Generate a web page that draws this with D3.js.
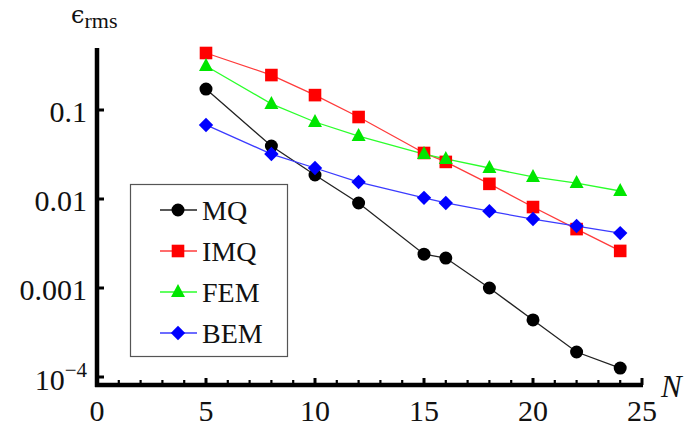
<!DOCTYPE html>
<html>
<head>
<meta charset="utf-8">
<script src="https://cdn.jsdelivr.net/npm/d3@7"></script>
<style>
  html, body { margin: 0; padding: 0; background: #fff; }
  svg { display: block; font-family: "Liberation Serif", "Times New Roman", serif; }
</style>
</head>
<body>
<svg id="chart" width="689" height="432"></svg>
<script>
// Grid sizes N and rms errors for each method
const nValues = [5, 8, 10, 12, 15, 16, 18, 20, 22, 24];
const mqErr  = [0.172, 0.0394, 0.0186, 0.00902, 0.0024, 0.00217, 0.001, 0.000438, 0.000191, 0.000126];
const imqErr = [0.437, 0.247, 0.147, 0.0834, 0.0329, 0.0261, 0.0148, 0.00812, 0.00459, 0.00261];
const femErr = [0.312, 0.117, 0.0733, 0.051, 0.032, 0.0282, 0.0223, 0.0177, 0.0151, 0.0123];
const bemErr = [0.0679, 0.032, 0.0223, 0.0155, 0.0103, 0.00902, 0.0073, 0.00595, 0.00497, 0.00414];
const seriesNames = ["MQ", "IMQ", "FEM", "BEM"];
const xTickLabels = [0, 5, 10, 15, 20, 25];
const yTickValues = [0.1, 0.01, 0.001, 0.0001];
const yTickLabels = ["0.1", "0.01", "0.001", "10^-4"];

const series = [
  { name: seriesNames[0], values: mqErr,  color: "#000000", line: "#222222", shape: "circle" },
  { name: seriesNames[1], values: imqErr, color: "#ff0000", line: "#ff3b3b", shape: "square" },
  { name: seriesNames[2], values: femErr, color: "#00e600", line: "#2bff2b", shape: "triangle" },
  { name: seriesNames[3], values: bemErr, color: "#0000ff", line: "#3b3bff", shape: "diamond" }
];

const svg = d3.select("#chart");

// Scales: x linear, y logarithmic (one decade ~ 89px)
const x = d3.scaleLinear().domain([0, 25]).range([97, 642]);
const y = d3.scaleLog().domain([1e-4, 0.1]).range([377, 110]);
const yBottom = 385, yTop = 48;

// Marker path generators centred on (cx, cy)
function markerPath(shape, cx, cy) {
  const p = d3.path();
  if (shape === "circle") {
    p.arc(cx, cy, 6.5, 0, 2 * Math.PI);
  } else if (shape === "square") {
    const h = 6.3;
    p.rect(cx - h, cy - h, 2 * h, 2 * h);
  } else if (shape === "triangle") {
    const w = 7, up = 8, dn = 5;
    p.moveTo(cx, cy - up); p.lineTo(cx + w, cy + dn); p.lineTo(cx - w, cy + dn); p.closePath();
  } else {
    const r = 7.2;
    p.moveTo(cx, cy - r); p.lineTo(cx + r, cy); p.lineTo(cx, cy + r); p.lineTo(cx - r, cy); p.closePath();
  }
  return p.toString();
}

// Data lines and markers
const line = d3.line().x(d => x(d[0])).y(d => y(d[1]));
series.forEach(s => {
  const pts = nValues.map((n, i) => [n, s.values[i]]);
  svg.append("path").datum(pts)
    .attr("d", line).attr("fill", "none")
    .attr("stroke", s.line).attr("stroke-width", 1.3);
});
series.forEach(s => {
  const pts = nValues.map((n, i) => [n, s.values[i]]);
  svg.append("g").selectAll("path").data(pts).join("path")
    .attr("d", d => markerPath(s.shape, x(d[0]), y(d[1])))
    .attr("fill", s.color);
});

// Axes frame
const axisG = svg.append("g");
axisG.append("line").attr("x1", x(0)).attr("x2", x(0)).attr("y1", yTop).attr("y2", yBottom + 2)
  .attr("stroke", "#000").attr("stroke-width", 4.5);
axisG.append("line").attr("x1", x(0) - 2).attr("x2", x(25) + 1).attr("y1", yBottom).attr("y2", yBottom)
  .attr("stroke", "#000").attr("stroke-width", 4.5);

// x ticks (inward), major every 5, minor every 1
const xTicks = d3.range(0, 26);
axisG.selectAll(".xt").data(xTicks).join("line")
  .attr("x1", d => x(d)).attr("x2", d => x(d))
  .attr("y1", yBottom).attr("y2", d => yBottom - (d % 5 === 0 ? 7 : 5))
  .attr("stroke", "#000").attr("stroke-width", d => d % 5 === 0 ? 3 : 2.2);

axisG.selectAll(".xl").data(xTickLabels).join("text")
  .attr("x", d => x(d)).attr("y", 421)
  .attr("text-anchor", "middle").attr("font-size", 30).attr("fill", "#111")
  .text(d => d);

// y ticks (inward) and labels
axisG.selectAll(".yt").data(yTickValues).join("line")
  .attr("x1", x(0)).attr("x2", x(0) + 7)
  .attr("y1", d => y(d)).attr("y2", d => y(d))
  .attr("stroke", "#000").attr("stroke-width", 3);

yTickValues.forEach((v, i) => {
  const lab = yTickLabels[i];
  const t = axisG.append("text")
    .attr("x", 87).attr("y", y(v) + 11.5)
    .attr("text-anchor", "end").attr("font-size", 30).attr("fill", "#111");
  if (lab.includes("^")) {
    const [base, exp] = lab.split("^");
    t.attr("y", y(v) + 13);
    t.append("tspan").text(base);
    t.append("tspan").attr("dy", -13).attr("font-size", 21).text(exp.replace("-", "\u2212"));
  } else {
    t.text(lab);
  }
});

// Axis titles
const yTitle = svg.append("text").attr("x", 71).attr("y", 23).attr("fill", "#111");
yTitle.append("tspan").attr("font-size", 30).attr("font-family", "'DejaVu Serif', serif").attr("font-size", 24).text("\u03F5");
yTitle.append("tspan").attr("font-size", 22).attr("dy", 5).text("rms");

svg.append("text").attr("x", 661).attr("y", 397)
  .attr("font-size", 31).attr("font-style", "italic").attr("fill", "#111").text("N");

// Legend
const lg = svg.append("g");
lg.append("rect").attr("x", 130.5).attr("y", 184.5).attr("width", 157).attr("height", 172)
  .attr("fill", "#fff").attr("stroke", "#555").attr("stroke-width", 1.2);
const legendY = d3.scalePoint().domain(seriesNames).range([210, 333]);
series.forEach(s => {
  const cy = legendY(s.name);
  lg.append("line").attr("x1", 160).attr("x2", 197).attr("y1", cy).attr("y2", cy)
    .attr("stroke", s.line).attr("stroke-width", 1.3);
  lg.append("path").attr("d", markerPath(s.shape, 178, cy)).attr("fill", s.color);
  lg.append("text").attr("x", 202).attr("y", cy + 10)
    .attr("font-size", 28).attr("fill", "#111").text(s.name);
});
</script>
</body>
</html>
